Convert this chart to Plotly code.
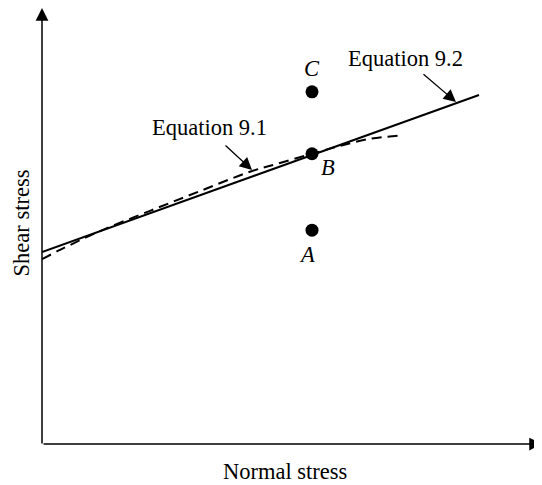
import plotly.graph_objects as go

# Schematic values (arbitrary units)
normal_solid = [0.0, 8.74]
shear_solid = [4.37, 7.95]

normal_dashed = [0.0, 0.36, 1.16, 2.16, 3.16, 4.16, 4.76, 5.40, 5.96, 6.56, 7.12]
shear_dashed = [4.21, 4.42, 4.85, 5.31, 5.76, 6.20, 6.40, 6.61, 6.79, 6.95, 7.02]

point_labels = ["A", "B", "C"]
point_normal = [5.4, 5.4, 5.4]
point_shear = [4.87, 6.61, 8.02]

x_range = [0, 10]
y_range = [0, 9.93]

FONT = "Liberation Serif"
FS = 22.5
fig = go.Figure()

fig.add_trace(go.Scatter(x=normal_solid, y=shear_solid, mode="lines",
                         line=dict(color="black", width=2), hoverinfo="skip"))
fig.add_trace(go.Scatter(x=normal_dashed, y=shear_dashed, mode="lines",
                         line=dict(color="black", width=2, dash="10px,6px", shape="spline"),
                         hoverinfo="skip"))
fig.add_trace(go.Scatter(x=point_normal, y=point_shear, mode="markers",
                         marker=dict(color="black", size=13), hoverinfo="skip"))

ann = []
# axes with arrows
ann.append(dict(x=x_range[0], y=y_range[1], ax=x_range[0], ay=y_range[0] - 0.02,
                xref="x", yref="y", axref="x", ayref="y", text="", showarrow=True,
                arrowhead=2, arrowsize=1.7, arrowwidth=1.5, arrowcolor="black"))
ann.append(dict(x=x_range[1], y=y_range[0], ax=x_range[0], ay=y_range[0],
                xref="x", yref="y", axref="x", ayref="y", text="", showarrow=True,
                arrowhead=2, arrowsize=1.7, arrowwidth=1.5, arrowcolor="black"))
# equation labels with arrows
ann.append(dict(x=8.28, y=7.79, ax=7.6, ay=8.45, xref="x", yref="y", axref="x", ayref="y",
                text="", showarrow=True, arrowhead=2, arrowsize=1.9, arrowwidth=1.3,
                arrowcolor="black"))
ann.append(dict(x=4.2, y=6.24, ax=3.64, ay=6.83, xref="x", yref="y", axref="x", ayref="y",
                text="", showarrow=True, arrowhead=2, arrowsize=1.9, arrowwidth=1.3,
                arrowcolor="black"))
ann.append(dict(x=7.26, y=8.79, text="Equation 9.2", showarrow=False,
                xanchor="center", yanchor="middle",
                font=dict(family=FONT, size=FS, color="black")))
ann.append(dict(x=3.34, y=7.20, text="Equation 9.1", showarrow=False,
                xanchor="center", yanchor="middle",
                font=dict(family=FONT, size=FS, color="black")))
# point labels
label_pos = {"A": (5.3, 4.31), "B": (5.72, 6.29), "C": (5.4, 8.56)}
for lab in point_labels:
    px, py = label_pos[lab]
    ann.append(dict(x=px, y=py, text=f"<i>{lab}</i>", showarrow=False,
                    xanchor="center", yanchor="middle",
                    font=dict(family=FONT, size=FS, color="black")))
# axis titles
ann.append(dict(x=0.486, y=-0.064, xref="paper", yref="paper", text="Normal stress",
                xanchor="center", yanchor="middle",
                showarrow=False, font=dict(family=FONT, size=FS, color="black")))
ann.append(dict(x=-0.041, y=0.507, xref="paper", yref="paper", text="Shear stress",
                xanchor="center", yanchor="middle",
                showarrow=False, textangle=-90,
                font=dict(family=FONT, size=FS, color="black")))

fig.update_layout(
    width=534, height=477,
    margin=dict(l=34, r=0, t=0, b=41),
    paper_bgcolor="white", plot_bgcolor="white",
    showlegend=False,
    annotations=ann,
    xaxis=dict(range=x_range, visible=False, fixedrange=True),
    yaxis=dict(range=y_range, visible=False, fixedrange=True),
)

fig.write_html("out.html")
